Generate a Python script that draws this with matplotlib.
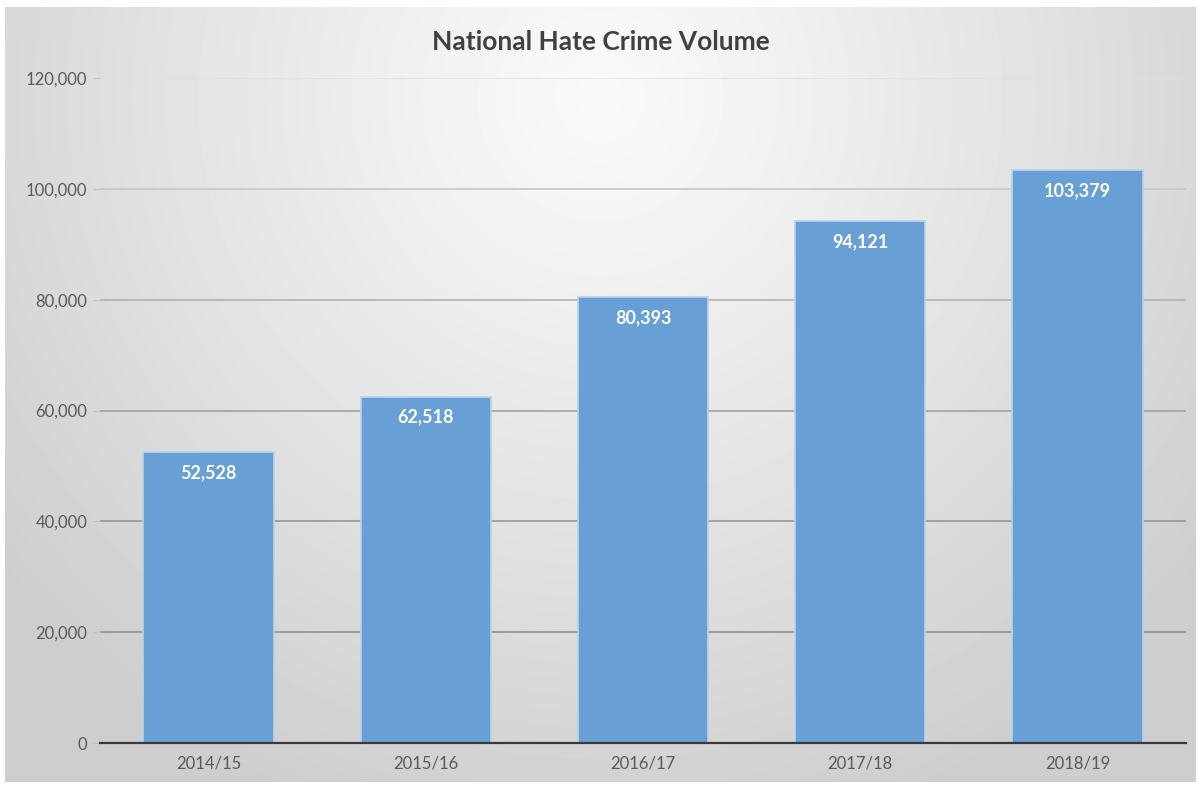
import numpy as np
import matplotlib.pyplot as plt
from matplotlib.ticker import FuncFormatter

# yearly recorded hate crime totals
years = ["2014/15", "2015/16", "2016/17", "2017/18", "2018/19"]
crimes = [52528, 62518, 80393, 94121, 103379]
y_ticks = [0, 20000, 40000, 60000, 80000, 100000, 120000]

plt.rcParams['font.family'] = ['Lato', 'DejaVu Sans']

fig = plt.figure(figsize=(12.01, 7.87), dpi=100)
fig.patch.set_facecolor("white")

# soft radial grey gradient, brightest at the top centre
bg = fig.add_axes([5 / 1201, 5 / 787, 1191 / 1201, 775 / 787])
px, py = np.meshgrid(np.arange(1191), np.arange(775))
r = np.hypot(px - 595, py - 90) / 600.0
shade = np.clip(250 - 34 * r ** 1.1, 206, 250) / 255.0
bg.imshow(shade, cmap="gray", vmin=0, vmax=1, aspect="auto",
          extent=[0, 1, 0, 1], origin="upper", interpolation="bilinear")
bg.axis("off")

ax = fig.add_axes([100 / 1201, 1 - 743 / 787, 1086 / 1201, (743 - 78) / 787])
ax.patch.set_alpha(0)

x = np.arange(len(years))
bars = ax.bar(x, crimes, width=0.6, color="#689fd4", edgecolor="#bcd3ea",
              linewidth=1.2, zorder=3)
for b, v in zip(bars, crimes):
    ax.text(b.get_x() + b.get_width() / 2, v - 3700, f"{v:,}",
            ha="center", va="center", color="white", fontsize=13,
            fontweight="bold", zorder=4)

ax.set_xlim(-0.5, len(years) - 0.5)
ax.set_ylim(0, 120000)
ax.set_yticks(y_ticks)
ax.yaxis.set_major_formatter(FuncFormatter(lambda v, p: f"{int(v):,}"))
ax.set_xticks(x)
ax.set_xticklabels(years)

# gridlines fade out towards the bright top of the panel
for t in y_ticks[1:]:
    g = 0.54 + 0.34 * (t / 120000) ** 2.2
    ax.axhline(t, color=(g, g, g), linewidth=1.1, zorder=1)

ax.tick_params(axis="y", length=5, color="#c4c4c4", labelcolor="#595959",
               labelsize=12, pad=4)
ax.tick_params(axis="x", length=0, labelcolor="#595959", labelsize=12, pad=9)
for s in ["top", "right", "left"]:
    ax.spines[s].set_visible(False)
ax.spines["bottom"].set_color("#3a3a3a")
ax.spines["bottom"].set_linewidth(1.6)
ax.spines["bottom"].set_zorder(5)

fig.text(0.5, 1 - 42 / 787, "National Hate Crime Volume", ha="center",
         va="center", fontsize=19, fontweight="bold", color="#404040")

fig.savefig("out.png", dpi=100)
